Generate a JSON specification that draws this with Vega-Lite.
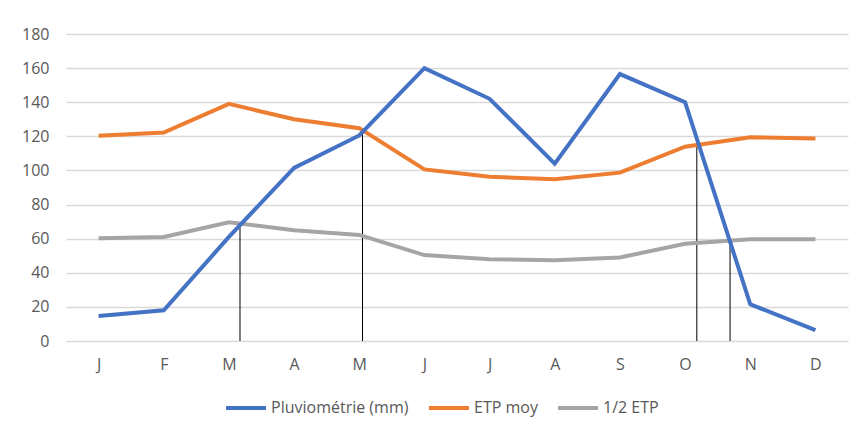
{
  "$schema": "https://vega.github.io/schema/vega-lite/v6.json",
  "width": 782,
  "height": 307,
  "autosize": {"type": "none"},
  "padding": {"left": 66, "top": 34, "right": 7, "bottom": 89},
  "background": "white",
  "config": {
    "view": {"stroke": null},
    "font": "Open Sans",
    "axis": {"labelColor": "#595959", "labelFontSize": 16, "labelFont": "Open Sans", "title": null, "domain": false, "ticks": false, "labelOverlap": false},
    "axisX": {"grid": false, "labelPadding": 15},
    "axisY": {"grid": true, "gridColor": "#D9D9D9", "gridWidth": 1.3, "labelPadding": 17},
    "legend": {"labelColor": "#595959", "labelFontSize": 16, "labelFont": "Open Sans"}
  },
  "datasets": {
    "series": [
      {"m": 1, "serie": "Pluviométrie (mm)", "v": 14.6},
      {"m": 2, "serie": "Pluviométrie (mm)", "v": 18},
      {"m": 3, "serie": "Pluviométrie (mm)", "v": 61},
      {"m": 4, "serie": "Pluviométrie (mm)", "v": 101.5},
      {"m": 5, "serie": "Pluviométrie (mm)", "v": 120.5},
      {"m": 6, "serie": "Pluviométrie (mm)", "v": 160},
      {"m": 7, "serie": "Pluviométrie (mm)", "v": 142},
      {"m": 8, "serie": "Pluviométrie (mm)", "v": 104},
      {"m": 9, "serie": "Pluviométrie (mm)", "v": 156.5},
      {"m": 10, "serie": "Pluviométrie (mm)", "v": 140},
      {"m": 11, "serie": "Pluviométrie (mm)", "v": 21.5},
      {"m": 12, "serie": "Pluviométrie (mm)", "v": 6.4},
      {"m": 1, "serie": "ETP moy", "v": 120.3},
      {"m": 2, "serie": "ETP moy", "v": 122.2},
      {"m": 3, "serie": "ETP moy", "v": 139},
      {"m": 4, "serie": "ETP moy", "v": 130},
      {"m": 5, "serie": "ETP moy", "v": 124.8},
      {"m": 6, "serie": "ETP moy", "v": 100.6},
      {"m": 7, "serie": "ETP moy", "v": 96.3},
      {"m": 8, "serie": "ETP moy", "v": 94.8},
      {"m": 9, "serie": "ETP moy", "v": 98.7},
      {"m": 10, "serie": "ETP moy", "v": 113.9},
      {"m": 11, "serie": "ETP moy", "v": 119.4},
      {"m": 12, "serie": "ETP moy", "v": 118.8},
      {"m": 1, "serie": "1/2 ETP", "v": 60.2},
      {"m": 2, "serie": "1/2 ETP", "v": 61},
      {"m": 3, "serie": "1/2 ETP", "v": 69.6},
      {"m": 4, "serie": "1/2 ETP", "v": 65},
      {"m": 5, "serie": "1/2 ETP", "v": 62.2},
      {"m": 6, "serie": "1/2 ETP", "v": 50.4},
      {"m": 7, "serie": "1/2 ETP", "v": 47.9},
      {"m": 8, "serie": "1/2 ETP", "v": 47.4},
      {"m": 9, "serie": "1/2 ETP", "v": 49},
      {"m": 10, "serie": "1/2 ETP", "v": 57},
      {"m": 11, "serie": "1/2 ETP", "v": 59.7},
      {"m": 12, "serie": "1/2 ETP", "v": 59.6}
    ],
    "crossings": [
      {"x": 3.17, "top": 69},
      {"x": 5.05, "top": 124},
      {"x": 10.18, "top": 115.5},
      {"x": 10.69, "top": 59.3}
    ]
  },
  "encoding": {
    "x": {
      "type": "quantitative",
      "scale": {"domain": [0.5, 12.5], "nice": false, "zero": false},
      "axis": {
        "values": [1,2,3,4,5,6,7,8,9,10,11,12],
        "labelExpr": "['J','F','M','A','M','J','J','A','S','O','N','D'][datum.value - 1]"
      }
    },
    "y": {
      "type": "quantitative",
      "scale": {"domain": [0, 180], "nice": false},
      "axis": {"values": [0,20,40,60,80,100,120,140,160,180]}
    }
  },
  "layer": [
    {
      "data": {"name": "crossings"},
      "mark": {"type": "rule", "color": "black", "strokeWidth": 1},
      "encoding": {
        "x": {"field": "x", "type": "quantitative"},
        "y": {"field": "top", "type": "quantitative"},
        "y2": {"datum": 0}
      }
    },
    {
      "data": {"name": "series"},
      "transform": [{"filter": "datum.serie === '1/2 ETP'"}],
      "mark": {"type": "line", "strokeWidth": 4},
      "encoding": {
        "x": {"field": "m", "type": "quantitative"},
        "y": {"field": "v", "type": "quantitative"},
        "color": {"field": "serie", "type": "nominal"}
      }
    },
    {
      "data": {"name": "series"},
      "transform": [{"filter": "datum.serie === 'ETP moy'"}],
      "mark": {"type": "line", "strokeWidth": 4},
      "encoding": {
        "x": {"field": "m", "type": "quantitative"},
        "y": {"field": "v", "type": "quantitative"},
        "color": {"field": "serie", "type": "nominal"}
      }
    },
    {
      "data": {"name": "series"},
      "transform": [{"filter": "datum.serie === 'Pluviométrie (mm)'"}],
      "mark": {"type": "line", "strokeWidth": 4},
      "encoding": {
        "x": {"field": "m", "type": "quantitative"},
        "y": {"field": "v", "type": "quantitative"},
        "color": {
          "field": "serie", "type": "nominal",
          "scale": {"domain": ["Pluviométrie (mm)", "ETP moy", "1/2 ETP"], "range": ["#4472C4", "#ED7D31", "#A5A5A5"]},
          "legend": {
            "title": null, "orient": "none", "legendX": 158, "legendY": 352, "direction": "horizontal",
            "symbolType": "stroke", "symbolSize": 1600, "symbolStrokeWidth": 4,
            "labelOffset": 3, "columnPadding": 12
          }
        }
      }
    }
  ]
}
